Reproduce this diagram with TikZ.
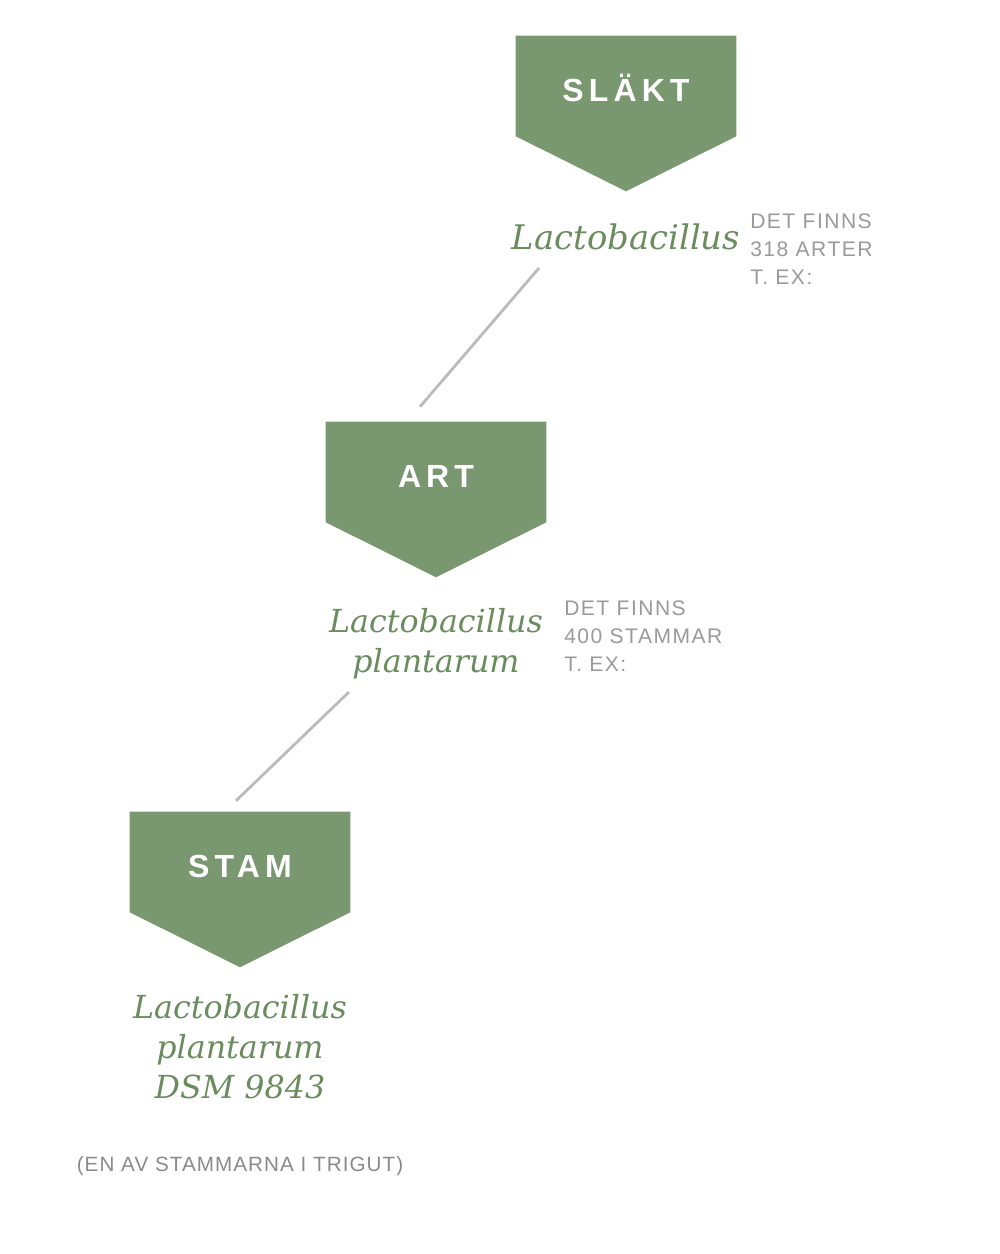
\documentclass[tikz,border=0pt]{standalone}
\usepackage{fontspec}
\setmainfont{DejaVu Serif}
\newfontfamily\capsfont[LetterSpace=16]{Liberation Sans}
\newfontfamily\notefont[LetterSpace=7]{Liberation Sans}
\newfontfamily\footfont[LetterSpace=5]{Liberation Sans}
\usetikzlibrary{positioning,calc,backgrounds}
\definecolor{tgGreen}{HTML}{7A9870}
\definecolor{tgName}{HTML}{6B8C5E}
\definecolor{tgNote}{HTML}{9A9A9A}
\definecolor{tgFoot}{HTML}{8A8A8A}
\definecolor{tgLink}{HTML}{BBBBBB}
\tikzset{
  rankbox/.style={
    minimum width=165pt, minimum height=75pt, inner sep=0pt,
    text height=23pt, text depth=0pt,
    text=white, font=\capsfont\bfseries\fontsize{24}{24}\selectfont
  },
  taxon/.style={text=tgName, font=\itshape\fontsize{23.8}{30}\selectfont, align=center, inner sep=0pt, anchor=base},
  note/.style={text=tgNote, font=\notefont\fontsize{15.8}{21}\selectfont, align=left, inner sep=0pt, anchor=base west},
  footnote/.style={text=tgFoot, font=\footfont\fontsize{15.5}{18}\selectfont, inner sep=0pt, anchor=base},
  link/.style={draw=tgLink, line width=2.1pt}
}

\begin{document}
\begin{tikzpicture}[x=0.75pt, y=-0.75pt]
  \useasboundingbox (0,0) rectangle (1000,1254);
  % rank boxes
  \node[rankbox] (slakt) at (626,86) {SLÄKT};
  \node[rankbox] (art) at (436,472) {ART};
  \node[rankbox] (stam) at (240,862) {STAM};
  \begin{scope}[on background layer]
    \foreach \r in {slakt,art,stam}
      \fill[tgGreen] (\r.north west) -- (\r.north east) -- (\r.south east)
        -- ($(\r.south)+(0,55)$) -- (\r.south west) -- cycle;
  \end{scope}
  % names
  \node[taxon, font=\itshape\fontsize{25.4}{30}\selectfont] (genus) at (626,249) {Lactobacillus};
  \node[taxon] (species) at (436,672) {Lactobacillus\\plantarum};
  \node[taxon] (strain) at (240,1098) {Lactobacillus\\plantarum\\DSM 9843};
  \node[note] (genusnote) at (750,284) {DET FINNS\\318 ARTER\\T. EX:};
  \node[note] (speciesnote) at (564,671) {DET FINNS\\400 STAMMAR\\T. EX:};
  \node[footnote] (trigut) at (240,1171) {(EN AV STAMMARNA I TRIGUT)};
  % links
  \draw[link] ($(genus.base)+(-87,19)$) -- ($(art.north)+(-16,-15)$);
  \draw[link] ($(species.base)+(-87,20)$) -- ($(stam.north)+(-4,-11)$);
\end{tikzpicture}
\end{document}
